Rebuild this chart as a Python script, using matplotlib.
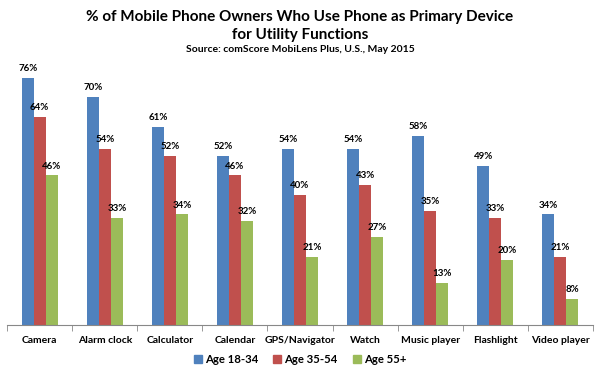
import numpy as np
import matplotlib
matplotlib.use("Agg")
import matplotlib.pyplot as plt
from matplotlib.patches import Patch

plt.rcParams["font.family"] = ["Lato", "DejaVu Sans"]
plt.rcParams["font.weight"] = "bold"

categories = ["Camera", "Alarm clock", "Calculator", "Calendar", "GPS/Navigator",
              "Watch", "Music player", "Flashlight", "Video player"]
series_names = ["Age 18-34", "Age 35-54", "Age 55+"]
age_18_34 = [76, 70, 61, 52, 54, 54, 58, 49, 34]
age_35_54 = [64, 54, 52, 46, 40, 43, 35, 33, 21]
age_55_plus = [46, 33, 34, 32, 21, 27, 13, 20, 8]
colors = ["#4F81BD", "#C0504D", "#9BBB59"]

fig = plt.figure(figsize=(6, 3.72), dpi=100)
ax = fig.add_axes([0.012, 0.126, 0.976, 0.70])

x = np.arange(len(categories))
width = 0.185
for i, vals in enumerate([age_18_34, age_35_54, age_55_plus]):
    pos = x + (i - 1) * width
    ax.bar(pos, vals, width, color=colors[i], label=series_names[i])
    for p, v in zip(pos, vals):
        ax.text(p, v + 1.5, f"{v}%", ha="center", va="bottom", fontsize=7, fontweight="bold")

ax.set_xlim(-0.5, len(categories) - 0.5)
ax.set_ylim(0, 80)
ax.set_yticks([])
for s in ["top", "right", "left"]:
    ax.spines[s].set_visible(False)
ax.spines["bottom"].set_color("#888888")
ax.set_xticks(x)
ax.set_xticklabels(categories, fontsize=7.5, fontweight="bold")
ax.tick_params(axis="x", length=0, pad=8)
ax.set_xticks(np.arange(-0.5, len(categories)), minor=True)
ax.tick_params(axis="x", which="minor", length=4, color="#888888")

fig.text(0.5, 0.955, "% of Mobile Phone Owners Who Use Phone as Primary Device",
         ha="center", va="center", fontsize=11, fontweight="bold")
fig.text(0.5, 0.905, "for Utility Functions", ha="center", va="center",
         fontsize=11, fontweight="bold")
fig.text(0.5, 0.868, "Source: comScore MobiLens Plus, U.S., May 2015", ha="center",
         va="center", fontsize=7.5, fontweight="bold")

handles = [Patch(color=c) for c in colors]
fig.legend(handles, series_names, loc="center", bbox_to_anchor=(0.5, 0.033), ncol=3,
           frameon=False, fontsize=8.2, handlelength=0.7, handleheight=0.7,
           handletextpad=0.3, columnspacing=1.3)

fig.savefig("out.png", dpi=100)
